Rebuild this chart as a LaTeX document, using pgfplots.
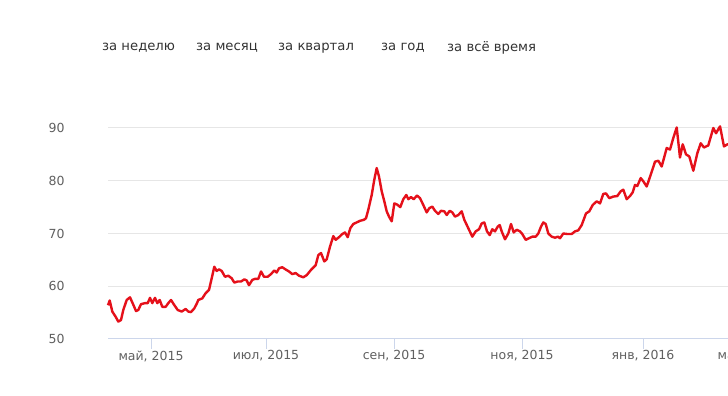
\documentclass[border=0pt]{standalone}
\usepackage{fontspec}
\setmainfont{DejaVu Sans}
\usepackage{pgfplots}
\pgfplotsset{compat=1.18}
\definecolor{gridc}{HTML}{E6E6E6}
\definecolor{axisc}{HTML}{CCD6EB}
\definecolor{labc}{HTML}{606060}
\definecolor{btnc}{HTML}{333333}
\definecolor{linec}{HTML}{E5101A}
\begin{document}
\begin{tikzpicture}
\useasboundingbox (0,0) rectangle (728pt,396pt);
\clip (0,0) rectangle (728pt,396pt);
\fill[white] (0,0) rectangle (728pt,396pt);
\begin{axis}[
  at={(108pt,57pt)}, anchor=south west,
  scale only axis, width=672pt, height=237.4pt,
  xmin=108, xmax=780, ymin=50, ymax=95,
  axis x line=bottom, axis y line=left,
  x axis line style={-, draw=axisc, line width=1pt},
  y axis line style={draw=none},
  ytick={50,60,70,80,90},
  ymajorgrids, grid style={gridc, line width=1pt},
  xtick={151,266,394,522,643,750},
  xticklabels={{май, 2015},{июл, 2015},{сен, 2015},{ноя, 2015},{янв, 2016},{мар, 2016}},
  xtick style={draw=axisc, line width=1pt},
  ytick style={draw=none},
  tick align=outside, major tick length=10pt,
  xticklabel style={font=\fontsize{12.5}{15}\selectfont, text=labc, anchor=north, yshift=2pt},
  yticklabel style={font=\fontsize{12.5}{15}\selectfont, text=labc, anchor=east, xshift=-30pt},
  /pgf/number format/assume math mode=true,
  clip=false,
]
\addplot[linec, line width=2.4pt, line join=round] coordinates {
(108,56.4)(109.7,57.3)(112.3,55.2)(115.7,54.2)(118.3,53.3)(121,53.6)(123.3,55.5)(126.7,57.4)(130,57.9)(133.3,56.5)(136,55.3)(138.3,55.5)(141,56.6)(145,56.8)(147.7,56.8)(150,57.8)(152.3,56.8)(155,57.8)(157.3,56.8)(159.7,57.4)(162.3,56.1)(165.7,56.1)(168.3,56.8)(171,57.4)(173.7,56.6)(177.7,55.5)(181.7,55.2)(185.7,55.7)(188.3,55.2)(191,55.1)(194.3,55.8)(197,56.8)(198.3,57.4)(202.3,57.7)(205.7,58.7)(209,59.3)(211.7,61.5)(214.3,63.7)(216.7,62.9)(219,63.2)(221.7,62.9)(225,61.8)(228.3,62.0)(231.7,61.5)(234.3,60.7)(237.7,60.9)(241,60.9)(244.3,61.3)(246.7,61.1)(249,60.2)(252.3,61.2)(255,61.4)(258.3,61.4)(261,62.8)(264,61.8)(267.7,61.8)(271,62.3)(274.3,63.0)(276.7,62.6)(279,63.4)(282.3,63.6)(285.5,63.2)(289,62.8)(292.3,62.3)(295.7,62.5)(299,62.0)(303.3,61.7)(306.7,62.1)(311,63.1)(315.7,64.0)(318.3,65.9)(321,66.3)(324.3,64.7)(326.7,65.1)(330,67.5)(333.3,69.5)(335.7,68.8)(339,69.3)(342.3,69.9)(345,70.2)(347.7,69.3)(350.3,71.0)(353.3,71.8)(356.7,72.1)(360,72.4)(364,72.6)(366,72.9)(368.3,74.5)(371.7,77.3)(374.3,80.2)(376.7,82.4)(379,80.8)(381.7,78.0)(384.3,76.1)(386.7,74.2)(389,73.2)(391.7,72.3)(394.3,75.7)(397,75.5)(400.3,75.0)(403.3,76.5)(406.3,77.3)(408.3,76.5)(411,76.9)(413.7,76.5)(417,77.2)(420,76.7)(423.3,75.4)(426.7,74.0)(429.3,74.8)(432.3,75.1)(435,74.3)(438.3,73.7)(441,74.3)(444.3,74.2)(446.7,73.5)(449.7,74.3)(452.3,74.0)(455,73.2)(458.3,73.5)(461.7,74.2)(464.3,72.6)(468.3,71.0)(472.3,69.4)(475.7,70.4)(479,70.8)(481.7,71.9)(484.3,72.1)(487,70.4)(489.7,69.7)(492.3,70.8)(495,70.4)(497.7,71.3)(499.7,71.6)(501.7,70.4)(505,68.9)(508.3,70.0)(511,71.8)(513.7,70.2)(516.7,70.7)(520,70.4)(522.3,69.9)(525.7,68.8)(529,69.1)(532.3,69.4)(535.7,69.4)(538.3,70.0)(541,71.3)(543.3,72.1)(545.7,71.8)(548.3,70.0)(551.7,69.4)(555,69.2)(558,69.4)(560,69.1)(563.3,70.0)(567.3,69.9)(571.7,69.9)(575,70.4)(578.3,70.6)(581.7,71.6)(586,73.8)(589.3,74.2)(592.7,75.4)(596.7,76.1)(600,75.7)(603.3,77.5)(606,77.6)(609.3,76.7)(613.3,77.0)(617.3,77.1)(620.7,78.0)(623.3,78.3)(626.7,76.5)(630,77.1)(632.7,77.8)(635,79.2)(637.3,79.0)(640.7,80.5)(643.3,79.9)(646.7,78.9)(651.7,81.7)(655,83.6)(658.3,83.8)(661.7,82.7)(666.7,86.2)(670,85.9)(673.3,88.1)(676.7,90.1)(680,84.4)(682.7,86.9)(686,85.0)(689.3,84.6)(693.3,81.9)(697.3,85.2)(700.7,87.1)(704,86.3)(708.3,86.7)(713.3,90.0)(716,89.0)(720,90.3)(724,86.5)(727.3,86.9)(732,86.7)
};
\end{axis}
\begin{scope}[every node/.style={anchor=west, inner sep=0pt, text=btnc, font=\fontsize{13.2}{16}\selectfont}]
\node at (102pt,348pt) {за неделю};
\node at (196pt,348pt) {за месяц};
\node at (278pt,348pt) {за квартал};
\node at (381pt,348pt) {за год};
\node at (447pt,348pt) {за всё время};
\end{scope}
\end{tikzpicture}
\end{document}
